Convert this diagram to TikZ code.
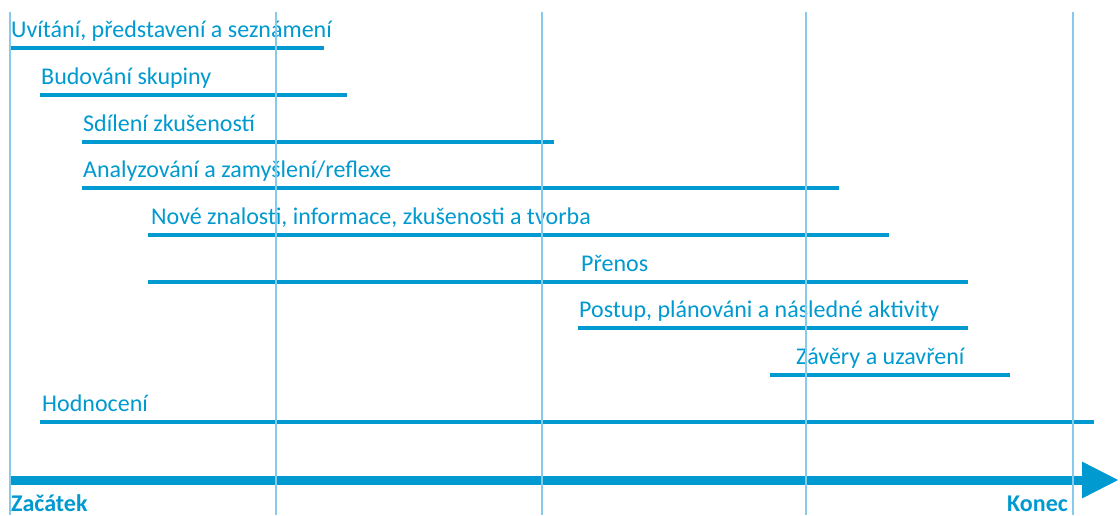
\documentclass[tikz,border=0pt]{standalone}
\usepackage{fontspec}
\setmainfont{Carlito}
\usetikzlibrary{arrows.meta}
\definecolor{phaseblue}{RGB}{0,153,208}
\definecolor{gridblue}{RGB}{135,203,236}
\tikzset{
  phase/.style={draw=phaseblue, line width=4pt},
  phasetext/.style={anchor=base west, inner sep=0pt, text=phaseblue,
    font=\fontsize{24}{28}\selectfont},
  endtext/.style={anchor=base west, inner sep=0pt, text=phaseblue,
    font=\fontsize{24}{28}\selectfont\bfseries},
  timeaxis/.style={draw=phaseblue, line width=9pt,
    -{Triangle[length=37pt,width=34pt]}},
  gridline/.style={draw=gridblue, line width=1.5pt}
}
\begin{document}
\begin{tikzpicture}[x=1pt, y=-1pt]
    \useasboundingbox (0,0) rectangle (1120,515);

        % Define the phases
        \foreach \y/\xa/\xb/\xt/\txt [count=\i] in {
          {48/10/324/11/{Uvítání, představení a seznámení}},
          {95/40/347/41/{Budování skupiny}},
          {142/82/554/83/{Sdílení zkušeností}},
          {188/82/839/83/{Analyzování a zamyšlení/reflexe}},
          {235/148/889/151/{Nové znalosti, informace, zkušenosti a tvorba}},
          {282/148/968/581/{Přenos}},
          {328/578/968/579/{Postup, plánováni a následné aktivity}},
          {375/770/1010/796/{Závěry a uzavření}},
          {422/40/1094/42/{Hodnocení}}}
        {
          \coordinate (s\i) at (\xa,\y);
          \coordinate (e\i) at (\xb,\y);
          \draw[phase] (s\i) -- (e\i);
          \node[phasetext] (t\i) at (\xt,\y-10.5) {\txt};
        }

        % Time axis
        \coordinate (start) at (10,480);
        \coordinate (end)   at (1119,480);
        \draw[timeaxis] (start) -- (end);
        \node[endtext] (zacatek) at (11,511) {Začátek};
        \node[endtext] (konec)   at (1007,511) {Konec};

        % Grid lines
        \foreach \x [count=\j] in {10,276,542,806,1073} {
          \coordinate (g\j) at (\x,12);
          \coordinate (h\j) at (\x,515);
          \draw[gridline] (g\j) -- (h\j);
        }
      \end{tikzpicture}
\end{document}
